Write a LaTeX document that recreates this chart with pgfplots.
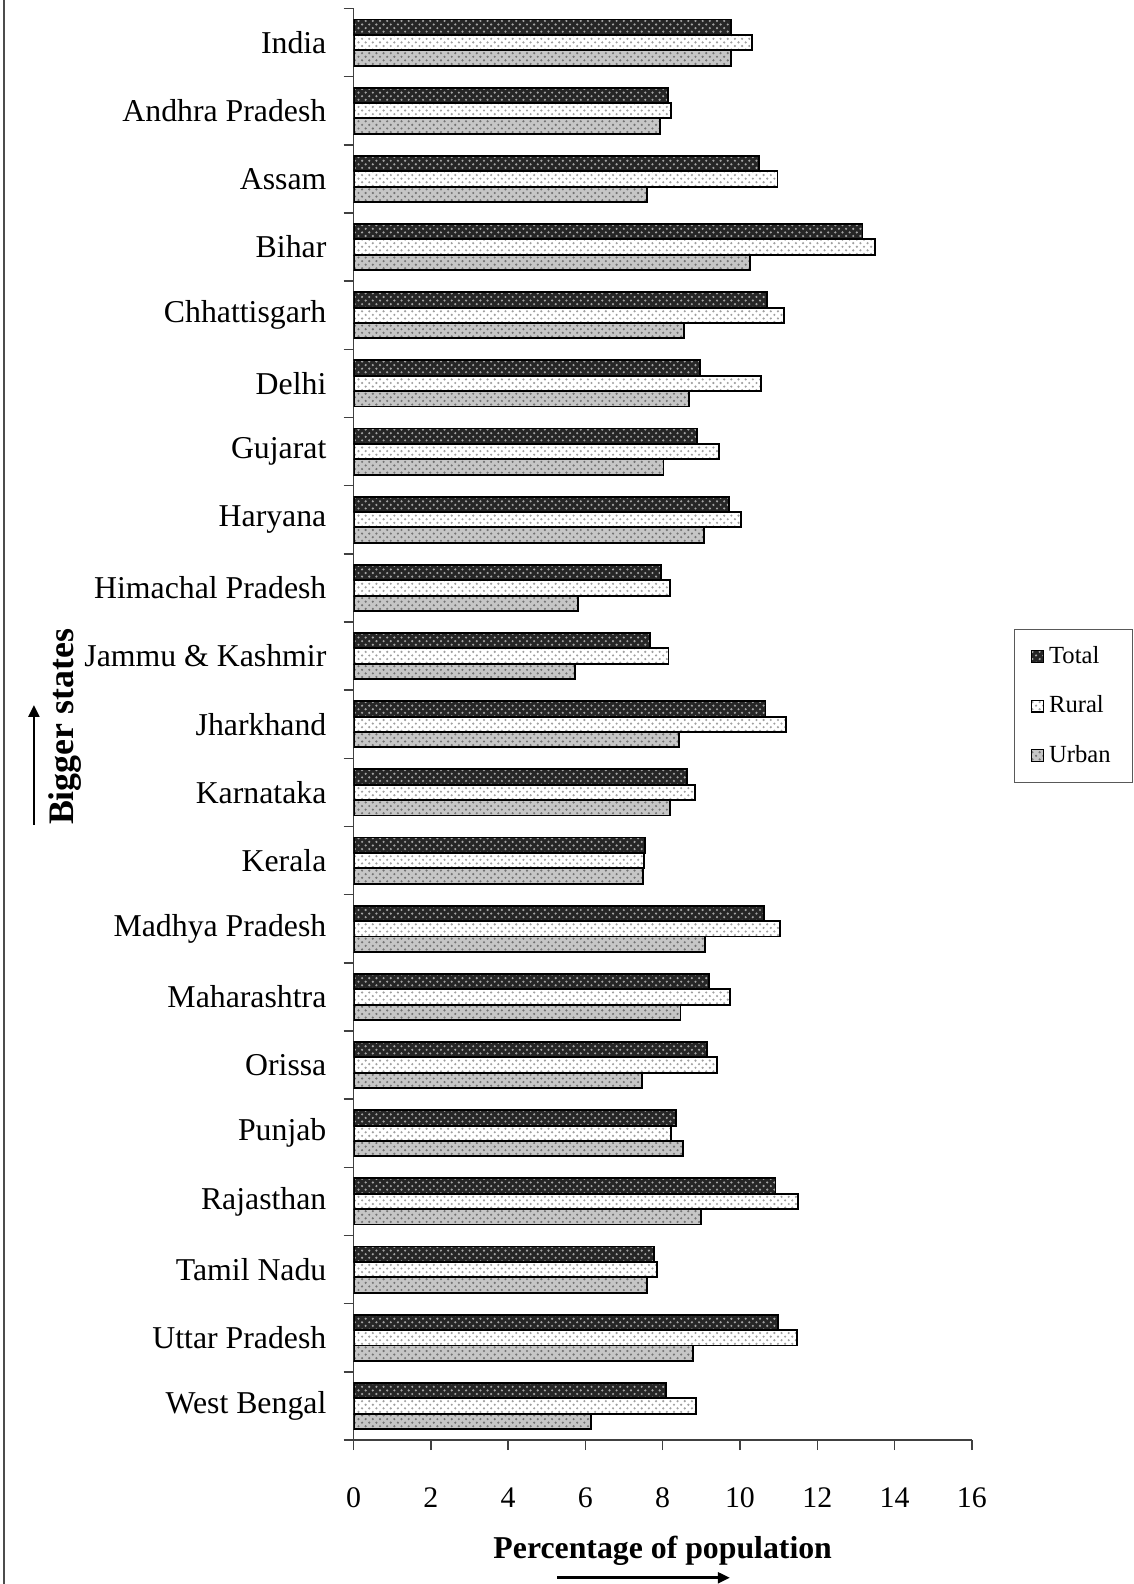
\documentclass[border=0pt]{standalone}
\usepackage{fontspec}
\setmainfont{Liberation Serif}
\usepackage{pgfplots}
\pgfplotsset{compat=1.18}
\usetikzlibrary{patterns,arrows.meta}

% shares (%), India first
\begin{document}
\begin{tikzpicture}
\useasboundingbox (0,0) rectangle (474.06pt,662.76pt);
\draw[black!70, line width=0.6pt] (1.7pt,0) -- (1.7pt,662.76pt);
\begin{axis}[
    at={(147.95pt,60.25pt)}, anchor=south west,
    scale only axis,
    width=258.66pt, height=598.95pt,
    xbar=0pt,
    bar width=6.44pt,
    y dir=reverse,
    xmin=0, xmax=16,
    ymin=-0.5, ymax=20.5,
    axis x line*=bottom, axis y line*=left,
    axis line style={black!75, line width=0.6pt},
    xtick={0,2,...,16},
    ytick={0,...,20},
    yticklabels={India, Andhra Pradesh, Assam, Bihar, Chhattisgarh, Delhi, Gujarat, Haryana, Himachal Pradesh, Jammu \& Kashmir, Jharkhand, Karnataka, Kerala, Madhya Pradesh, Maharashtra, Orissa, Punjab, Rajasthan, Tamil Nadu, Uttar Pradesh, West Bengal},
    minor ytick={-0.5,0.5,...,20.5},
    every major y tick/.style={draw=none},
    tick align=outside,
    major tick length=4.2pt, minor tick length=4.2pt,
    tick style={black!75, line width=0.6pt},
    /pgf/number format/assume math mode=true,
    xticklabel style={font=\fontsize{12.5}{14}\selectfont, anchor=center, yshift=-20pt},
    yticklabel style={font=\fontsize{13.3}{15}\selectfont, anchor=east, inner sep=0pt, xshift=-7pt},
    xlabel={\textbf{Percentage of population}},
    xlabel style={font=\fontsize{13.3}{15}\selectfont, at={(axis description cs:0.5,0)}, anchor=center, yshift=-46.5pt},
    reverse legend,
    legend cell align=left,
    legend style={at={(1.068,0.5665)}, anchor=north west, draw=black!65, line width=0.5pt,
        font=\fontsize{10.3}{12}\selectfont, inner xsep=7pt, inner ysep=5pt, row sep=8pt},
    legend image code/.code={\draw[#1, line width=0.5pt] (0pt,-2.5pt) rectangle (5pt,2.5pt);},
]
% urban
\addplot[draw=black, line width=0.8pt, fill=gray!45, postaction={pattern=crosshatch dots, pattern color=black!55}] coordinates {
(9.76,0) (7.93,1) (7.59,2) (10.25,3) (8.56,4) (8.68,5) (8.02,6) (9.08,7) (5.80,8) (5.74,9) (8.43,10)
(8.20,11) (7.50,12) (9.09,13) (8.46,14) (7.46,15) (8.53,16) (8.98,17) (7.59,18) (8.79,19) (6.14,20)};
% rural
\addplot[draw=black, line width=0.8pt, fill=white, postaction={pattern=crosshatch dots, pattern color=gray!75}] coordinates {
(10.31,0) (8.22,1) (10.97,2) (13.49,3) (11.13,4) (10.54,5) (9.45,6) (10.02,7) (8.19,8) (8.15,9) (11.18,10)
(8.84,11) (7.52,12) (11.04,13) (9.75,14) (9.41,15) (8.21,16) (11.50,17) (7.85,18) (11.48,19) (8.85,20)};
% total
\addplot[draw=black, line width=0.8pt, fill=black!85, postaction={pattern=crosshatch dots, pattern color=gray!70}] coordinates {
(9.76,0) (8.14,1) (10.49,2) (13.17,3) (10.69,4) (8.97,5) (8.89,6) (9.72,7) (7.96,8) (7.67,9) (10.66,10)
(8.63,11) (7.54,12) (10.62,13) (9.20,14) (9.15,15) (8.34,16) (10.92,17) (7.77,18) (10.98,19) (8.09,20)};
\legend{Urban, Rural, Total}
\end{axis}
\node[rotate=90, font=\fontsize{15}{17}\selectfont\bfseries] at (27.2pt,358.6pt) {Bigger states};
\draw[-{Triangle[length=5pt,width=4.5pt]}, line width=1.1pt] (14.2pt,317.6pt) -- (14.2pt,367.8pt);
\draw[-{Triangle[length=5pt,width=4.5pt]}, line width=1.1pt] (233.05pt,2.6pt) -- (305.4pt,2.6pt);
\end{tikzpicture}
\end{document}
